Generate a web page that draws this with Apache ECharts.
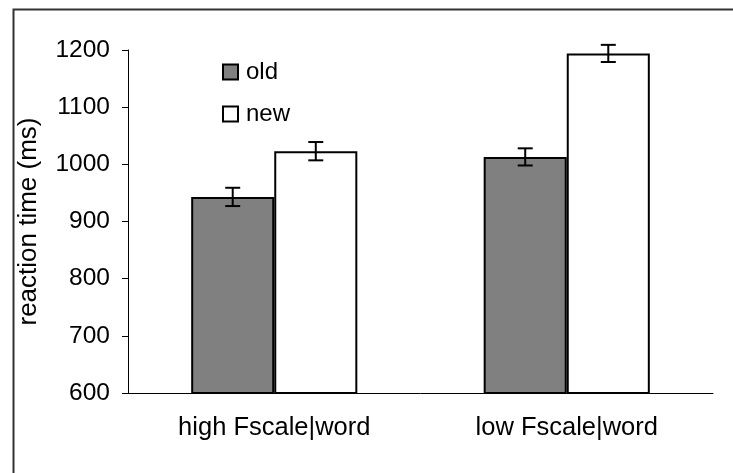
<!DOCTYPE html>
<html>
<head>
<meta charset="utf-8">
<script src="https://cdn.jsdelivr.net/npm/echarts@6/dist/echarts.min.js"></script>
<style>
  html, body { margin: 0; padding: 0; background: #fff; }
  #chart { width: 733px; height: 473px; }
</style>
</head>
<body>
<div id="chart"></div>
<script>
const categories = ['high Fscale|word', 'low Fscale|word'];
const oldValues = [943, 1013];
const oldErrors = [16, 15];
const newValues = [1023, 1194];
const newErrors = [16, 15];
const yTicks = { min: 600, max: 1200, interval: 100 };

const BAR_FRAC = 0.284;
const font = 'Liberation Sans, Arial, sans-serif';

// error bar drawn per bar: side -1 = old (left), +1 = new (right)
const errorSeries = (name, values, errors, side) => ({
  name: name + ' err',
  type: 'custom',
  z: 5,
  silent: true,
  data: values.map((v, i) => [i, v - errors[i], v + errors[i]]),
  renderItem: (params, api) => {
    const band = api.size([1, 0])[0];
    const dx = side * band * BAR_FRAC / 2;
    const lo = api.coord([api.value(0), api.value(1)]);
    const hi = api.coord([api.value(0), api.value(2)]);
    const x = lo[0] + dx;
    const cap = 7.5;
    const style = { stroke: '#000', lineWidth: 2 };
    return {
      type: 'group',
      children: [
        { type: 'line', shape: { x1: x, y1: lo[1], x2: x, y2: hi[1] }, style },
        { type: 'line', shape: { x1: x - cap, y1: lo[1], x2: x + cap, y2: lo[1] }, style },
        { type: 'line', shape: { x1: x - cap, y1: hi[1], x2: x + cap, y2: hi[1] }, style }
      ]
    };
  }
});

const chart = echarts.init(document.getElementById('chart'));
chart.setOption({
  animation: false,
  backgroundColor: '#fff',
  textStyle: { fontFamily: font, color: '#000' },
  graphic: [{
    type: 'rect',
    left: 11, top: 7,
    shape: { width: 900, height: 700 },
    style: { fill: 'none', stroke: '#333', lineWidth: 2 },
    z: 100
  }],
  legend: {
    orient: 'vertical',
    left: 222, top: 60,
    padding: 0,
    itemWidth: 15, itemHeight: 15, itemGap: 18,
    icon: 'rect',
    data: ['old', 'new'],
    textStyle: { fontSize: 24, lineHeight: 24, color: '#000', fontFamily: font, padding: [0, 0, 0, 3] }
  },
  grid: { left: 128, right: 20, top: 50, bottom: 80 },
  xAxis: {
    type: 'category',
    data: categories,
    axisLine: { lineStyle: { color: '#000', width: 1 } },
    axisTick: { length: 7, lineStyle: { color: '#000' } },
    axisLabel: { fontSize: 25.5, color: '#000', margin: 22, fontFamily: font }
  },
  yAxis: {
    type: 'value',
    min: yTicks.min, max: yTicks.max, interval: yTicks.interval,
    name: 'reaction time (ms)',
    nameLocation: 'middle',
    nameGap: 80,
    nameTextStyle: { fontSize: 26, color: '#000', fontFamily: font, padding: [0, 0, 6, 0] },
    axisLine: { show: true, lineStyle: { color: '#000', width: 1 } },
    axisTick: { show: true, length: 6, lineStyle: { color: '#000' } },
    splitLine: { show: false },
    axisLabel: { fontSize: 24.5, color: '#000', margin: 18, fontFamily: font, formatter: (v) => String(v) }
  },
  series: [
    {
      name: 'old', type: 'bar', data: oldValues,
      barWidth: (BAR_FRAC * 100) + '%', barGap: '0%',
      itemStyle: { color: '#808080', borderColor: '#000', borderWidth: 2 }
    },
    {
      name: 'new', type: 'bar', data: newValues,
      barWidth: (BAR_FRAC * 100) + '%', barGap: '0%',
      itemStyle: { color: '#fff', borderColor: '#000', borderWidth: 2 }
    },
    errorSeries('old', oldValues, oldErrors, -1),
    errorSeries('new', newValues, newErrors, 1)
  ]
});
</script>
</body>
</html>
